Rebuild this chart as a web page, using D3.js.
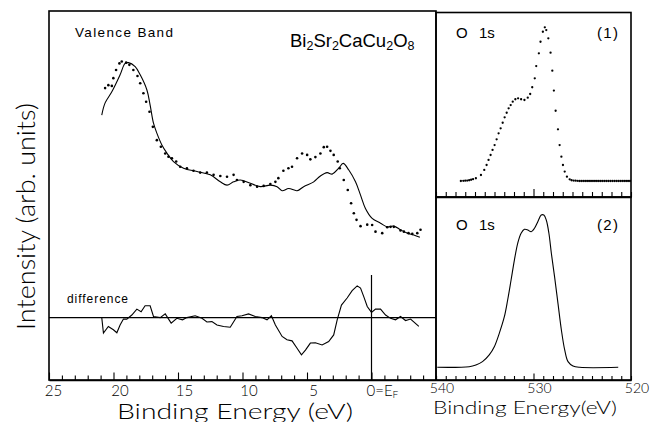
<!DOCTYPE html>
<html>
<head>
<meta charset="utf-8">
<script src="https://cdn.jsdelivr.net/npm/d3@7"></script>
<style>
  html, body { margin: 0; padding: 0; background: #fff; }
  svg { display: block; }
</style>
</head>
<body>
<div id="chart"></div>
<script>
// ---------------- DATA ----------------
// Valence band: calculated (solid line)
const vbCalcEnergy = [20.91,20.65,20.13,19.49,19.10,18.84,18.32,17.93,17.41,17.16,16.90,16.64,16.25,15.86,15.35,14.57,13.53,12.50,11.72,11.20,10.69,10.17,9.39,8.62,7.84,7.32,6.93,6.42,5.77,5.26,4.48,3.96,3.44,3.05,2.54,2.20,1.76,1.24,0.85,0.47,-0.05,-0.70,-1.22,-1.73,-2.25,-2.77,-3.28,-3.75];
const vbCalcIntensity = [71.8,75.1,78.1,82.7,85.8,86.0,84.9,82.7,78.6,74.5,69.6,66.9,63.7,61.5,59.2,57.4,56.5,55.6,53.7,52.8,53.7,54.2,53.3,52.4,52.8,52.4,51.3,51.9,51.3,52.4,53.7,55.3,56.2,55.8,57.4,58.7,56.9,53.7,50.1,46.5,43.8,42.5,41.5,41.7,40.7,39.8,39.3,38.7];

// Valence band: measured (dots)
const vbExpEnergy = [20.65,20.40,20.13,20.01,19.80,19.54,19.36,19.02,18.77,18.46,18.14,17.93,17.68,17.47,17.21,16.95,16.64,16.33,15.99,15.74,15.47,15.14,14.83,14.31,13.80,13.28,12.76,12.24,11.72,11.20,10.69,10.43,9.91,9.39,8.87,8.36,7.84,7.45,7.22,6.83,6.44,6.16,5.77,5.38,4.99,4.74,4.35,3.96,3.70,3.44,3.18,2.93,2.62,2.46,2.15,1.84,1.58,1.37,1.16,0.85,0.33,-0.05,-0.31,-0.83,-1.22,-1.48,-1.73,-2.25,-2.51,-2.87,-3.16,-3.55,-3.80];
const vbExpIntensity = [79.1,79.9,79.7,81.8,84.0,85.8,86.3,86.0,85.4,84.0,82.4,80.4,77.7,75.4,72.7,68.6,65.0,63.2,61.4,60.5,60.1,59.2,57.8,57.4,56.7,56.2,56.2,55.6,55.3,55.1,55.6,54.2,53.7,52.8,52.4,52.6,53.1,53.7,54.7,56.7,57.4,57.8,60.1,61.4,61.0,59.8,60.4,61.4,63.1,63.2,62.1,61.0,59.2,57.4,54.2,51.5,47.9,45.2,43.4,41.7,42.1,42.0,40.2,39.8,41.4,41.5,41.5,40.5,40.2,39.8,39.6,39.8,40.7];

// Difference curve
const diffEnergy = [20.91,20.78,20.40,20.01,19.74,19.49,19.23,18.97,18.58,18.19,17.86,17.55,17.16,16.90,16.38,15.99,15.53,15.09,14.65,14.31,13.67,13.14,12.76,12.37,11.98,11.47,10.95,10.43,10.04,9.53,9.01,8.49,8.10,7.76,7.45,6.93,6.55,6.16,5.77,5.43,5.12,4.74,4.35,3.83,3.32,2.93,2.66,2.33,1.89,1.50,1.11,0.85,0.60,0.33,0.00,-0.31,-0.70,-1.09,-1.48,-1.86,-2.25,-2.64,-3.03,-3.67];
const diffValues = [0,-4.2,-2.4,-3.3,-4.1,-2.0,-0.4,-0.4,0.7,2.3,1.6,3.2,3.2,0.3,0,1.0,-1.5,-0.2,-0.6,0,0.5,-0.2,-1.2,-1.1,-2.0,-2.4,-2.6,0.3,0.5,1.0,0.3,0,-0.6,0.5,-2.0,-5.1,-6.0,-6.3,-8.3,-10.1,-8.8,-6.9,-6.8,-7.4,-6.5,-4.7,-0.6,3.4,5.3,7.3,8.6,8.0,5.7,3.0,1.4,2.3,2.3,0.7,-0.2,-0.6,0.3,-0.8,-0.4,-2.4];

// O 1s panel (1): dots
const o1s1Energy = [537.45,537.2,537.0,536.8,536.6,536.4,536.2,535.91,535.39,535.05,534.81,534.61,534.40,534.20,533.99,533.78,533.58,533.37,533.16,532.96,532.75,532.55,532.34,532.13,531.86,531.58,531.27,530.93,530.59,530.34,530.13,529.87,529.72,529.45,529.28,529.04,528.84,528.69,528.48,528.25,528.07,527.91,527.73,527.49,527.32,527.14,526.98,526.80,526.57,526.29,526.1,525.9,525.7,525.5,525.3,525.1,524.9,524.7,524.5,524.3,524.1,523.9,523.7,523.5,523.3,523.1,522.9,522.7,522.5,522.3,522.1,521.9,521.7,521.5,521.3,521.1,520.9,520.7,520.5,520.3,520.1];
const o1s1Intensity = [0,0.1,0.2,0.3,0.5,0.8,1.2,1.8,3.9,7.2,10.4,13.7,16.9,20.2,23.4,27.1,31.0,34.3,37.9,41.4,44.4,47.3,49.4,51.6,53.2,53.8,53.2,52.7,54.2,56.6,61.0,66.8,74.8,83.1,90.6,97.1,100,98.2,92.8,83.5,71.8,58.8,45.7,33.6,23.4,15.8,10.4,6.1,2.8,1.1,0.5,0.3,0.2,0.1,0,0,0,0,0,0,0,0,0,0,0,0,0,0,0,0,0,0,0,0,0,0,0,0,0,0,0];

// O 1s panel (2): solid line
const o1s2Energy = [539.87,536.60,535.91,535.23,534.54,534.02,533.51,532.99,532.65,532.30,531.96,531.62,531.27,530.93,530.59,530.24,529.90,529.56,529.21,528.94,528.69,528.42,528.17,527.84,527.49,527.14,526.80,526.46,525.95,525.26,521.31];
const o1s2Intensity = [0,0.4,1.5,3.7,8.1,13.5,22.3,33.2,44.2,57.3,70.4,81.4,88.0,90.6,90.2,89.0,91.3,95.6,100,100,96.7,88.0,74.9,59.5,42.0,24.5,11.4,3.7,0.9,0,0];

// Ticks
const vbTicks = d3.range(25, -6, -1);
const vbMajorTicks = [25, 20, 15, 10, 5, 0];
const vbTickLabels = ["25", "20", "15", "10", "5", "0=E"];
const o1sTicks = d3.range(540, 519, -1);
const o1sMajorTicks = [540, 530, 520];
const o1sTickLabels = ["540", "530", "520"];

// ---------------- LAYOUT ----------------
const W = 651, H = 422;
const svg = d3.select("#chart").append("svg").attr("width", W).attr("height", H);

const L = { x0: 49, x1: 436, y0: 11, y1: 380 };
const R1 = { x0: 436, x1: 631, y0: 12.5, y1: 197 };
const R2 = { x0: 436, x1: 631, y0: 197, y1: 380 };

const xVB = d3.scaleLinear().domain([25, -5]).range([L.x0, L.x1]);
const yVB = d3.scaleLinear().domain([0, 100]).range([380, 11]);
const yDiff = d3.scaleLinear().domain([-10, 10]).range([317.6 + 36.9, 317.6 - 36.9]);
const xO = d3.scaleLinear().domain([540, 520]).range([R1.x0, R1.x1]);
const yO1 = d3.scaleLinear().domain([0, 100]).range([181, 27.3]);
const yO2 = d3.scaleLinear().domain([0, 100]).range([367.3, 215]);

const lineFont = "'Liberation Sans', Arial, sans-serif";
const titleFont = "Lato, 'Open Sans', 'Liberation Sans', sans-serif";

// Frames
function frame(b) {
  svg.append("rect").attr("x", b.x0).attr("y", b.y0)
    .attr("width", b.x1 - b.x0).attr("height", b.y1 - b.y0)
    .attr("fill", "none").attr("stroke", "#000").attr("stroke-width", 1.6);
}
frame(L); frame(R1); frame(R2);

// Axes (ticks pointing inward/up)
function ticksUp(scale, y, ticks, majors, minorLen, majorLen) {
  const g = svg.append("g").attr("transform", `translate(0,${y})`)
    .call(d3.axisTop(scale).tickValues(ticks).tickSize(minorLen).tickSizeOuter(0).tickFormat(""));
  g.select(".domain").attr("stroke", "#000").attr("stroke-width", 1.6);
  g.selectAll(".tick line").attr("stroke", "#000").attr("stroke-width", 1.1)
    .attr("y2", d => majors.includes(d) ? -majorLen : -minorLen);
  return g;
}
ticksUp(xVB, L.y1, vbTicks, vbMajorTicks, 4.5, 7.5);
ticksUp(xO, R1.y1, o1sTicks, [530], 5, 8);
ticksUp(xO, R2.y1, o1sTicks, [530], 4, 6.5);

// Tick labels
const tickG = svg.append("g").attr("font-family", titleFont).attr("font-weight", 300)
  .attr("font-size", 15).attr("fill", "#000");
vbMajorTicks.forEach((v, i) => {
  const t = tickG.append("text").attr("y", 396);
  if (v === 0) {
    t.attr("x", xVB(v) - 5).attr("text-anchor", "start");
    t.append("tspan").text(vbTickLabels[i]);
    t.append("tspan").attr("font-size", 10).attr("dy", 2).text("F");
  } else {
    t.attr("x", xVB(v) + (v === 25 ? 4.5 : 6.5)).attr("text-anchor", "middle").text(vbTickLabels[i]);
  }
});
o1sMajorTicks.forEach((v, i) => {
  tickG.append("text").attr("x", xO(v) + 6).attr("y", 392.5).attr("font-size", 14)
    .attr("text-anchor", "middle").text(o1sTickLabels[i]);
});

// Axis titles
svg.append("text").attr("x", 117).attr("y", 419).attr("font-family", titleFont).attr("font-weight", 300)
  .attr("font-size", 21).attr("textLength", 236).attr("lengthAdjust", "spacingAndGlyphs")
  .text("Binding Energy (eV)");
svg.append("text").attr("x", 433).attr("y", 413.5).attr("font-family", titleFont).attr("font-weight", 300)
  .attr("font-size", 17).attr("textLength", 184).attr("lengthAdjust", "spacingAndGlyphs")
  .text("Binding Energy(eV)");
svg.append("text").attr("transform", "translate(35,330) rotate(-90)")
  .attr("font-family", titleFont).attr("font-weight", 300)
  .attr("font-size", 25).attr("textLength", 227).attr("lengthAdjust", "spacingAndGlyphs")
  .text("Intensity (arb. units)");

// In-panel labels
svg.append("text").attr("x", 75).attr("y", 37).attr("font-family", lineFont).attr("font-size", 13.5)
  .attr("textLength", 98).attr("lengthAdjust", "spacing").text("Valence Band");
const formulaParts = [["Bi", false], ["2", true], ["Sr", false], ["2", true], ["CaCu", false], ["2", true], ["O", false], ["8", true]];
const formula = svg.append("text").attr("x", 290).attr("y", 46.5).attr("font-family", lineFont);
formulaParts.forEach(([s, sub], i) => {
  const prevSub = i > 0 && formulaParts[i - 1][1];
  formula.append("tspan").attr("font-size", sub ? 12.5 : 18.5)
    .attr("dy", sub ? 3 : (prevSub ? -3 : 0)).text(s);
});
svg.append("text").attr("x", 67).attr("y", 303).attr("font-family", lineFont).attr("font-size", 12)
  .attr("textLength", 61).attr("lengthAdjust", "spacing").text("difference");

function o1sLabel(y, tag) {
  svg.append("text").attr("x", 456).attr("y", y).attr("font-family", lineFont).attr("font-size", 15).text("O");
  svg.append("text").attr("x", 479).attr("y", y).attr("font-family", lineFont).attr("font-size", 15).text("1s");
  svg.append("text").attr("x", 597).attr("y", y).attr("font-family", lineFont).attr("font-size", 15)
    .attr("textLength", 21).text(tag);
}
o1sLabel(37.5, "(1)");
o1sLabel(230, "(2)");

// Difference zero line and E_F line
svg.append("line").attr("x1", L.x0).attr("x2", L.x1).attr("y1", yDiff(0)).attr("y2", yDiff(0))
  .attr("stroke", "#000").attr("stroke-width", 1.2);
svg.append("line").attr("x1", xVB(0)).attr("x2", xVB(0)).attr("y1", 275).attr("y2", L.y1)
  .attr("stroke", "#000").attr("stroke-width", 1.2);

// Valence band calculated line
const vbCalc = vbCalcEnergy.map((e, i) => [e, vbCalcIntensity[i]]);
svg.append("path").datum(vbCalc)
  .attr("d", d3.line().x(d => xVB(d[0])).y(d => yVB(d[1])).curve(d3.curveCatmullRom))
  .attr("fill", "none").attr("stroke", "#000").attr("stroke-width", 1.1);

// Valence band measured dots
const vbExp = vbExpEnergy.map((e, i) => [e, vbExpIntensity[i]]);
svg.append("g").selectAll("circle").data(vbExp).join("circle")
  .attr("cx", d => xVB(d[0])).attr("cy", d => yVB(d[1])).attr("r", 1.3).attr("fill", "#000");

// Difference curve
const diff = diffEnergy.map((e, i) => [e, diffValues[i]]);
svg.append("path").datum(diff)
  .attr("d", d3.line().x(d => xVB(d[0])).y(d => yDiff(d[1])))
  .attr("fill", "none").attr("stroke", "#000").attr("stroke-width", 1.1);

// O 1s (1) dots
const o1 = o1s1Energy.map((e, i) => [e, o1s1Intensity[i]]);
svg.append("g").selectAll("circle").data(o1).join("circle")
  .attr("cx", d => xO(d[0])).attr("cy", d => yO1(d[1])).attr("r", 1.15).attr("fill", "#000");

// O 1s (2) line
const o2 = o1s2Energy.map((e, i) => [e, o1s2Intensity[i]]);
svg.append("path").datum(o2)
  .attr("d", d3.line().x(d => xO(d[0])).y(d => yO2(d[1])).curve(d3.curveCatmullRom))
  .attr("fill", "none").attr("stroke", "#000").attr("stroke-width", 1.1);
</script>
</body>
</html>
